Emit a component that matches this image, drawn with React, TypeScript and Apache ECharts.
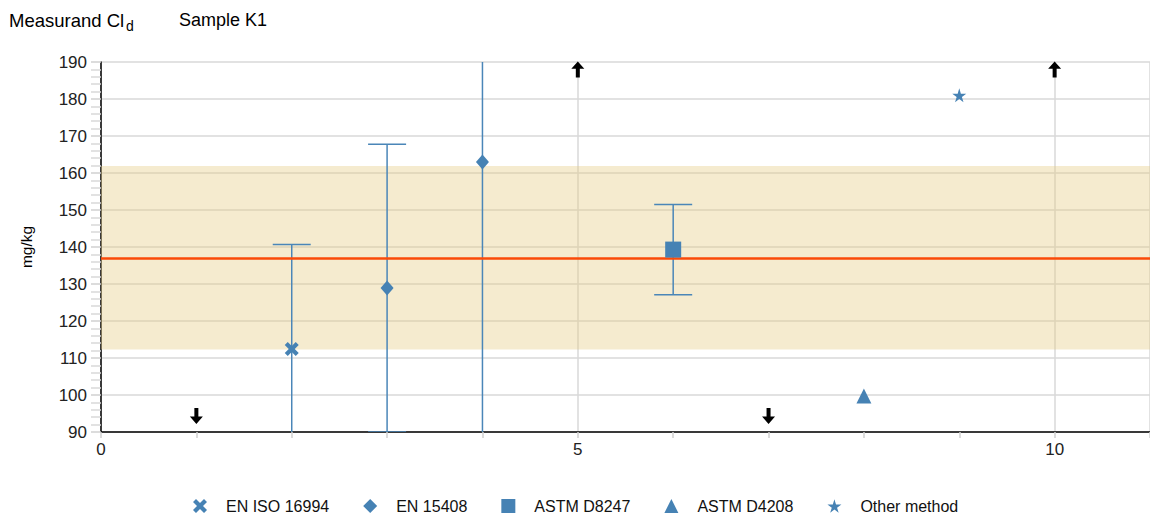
import React, { useEffect, useRef } from "react";
import * as echarts from "echarts";

// ---- data ----
const yTicks = { min: 90, max: 190, step: 10 };
const xTicks = { min: 0, max: 11, step: 5 };
const isoData = [[2, 112.4]];
const en15408Data = [[3, 128.9], [4, 163.0]];
const d8247Data = [[6, 139.3]];
const d4208Data = [[8, 99.7]];
const otherData = [[9, 181.0]];
// [x, low, high]
const errorBars = [
  [2, 84.1, 140.7],
  [3, 90.0, 167.8],
  [4, 83.0, 243.0],
  [6, 127.1, 151.5],
];
const arrowsUp = [[5, 188], [10, 188]];
const arrowsDown = [[1, 94.3], [7, 94.3]];
const assignedValue = 137;
const bandLow = 112.3;
const bandHigh = 161.9;
const legendNames = ["EN ISO 16994", "EN 15408", "ASTM D8247", "ASTM D4208", "Other method"];

const BLUE = "#4682b4";
const FONT = "Liberation Sans, Arial, sans-serif";

const CROSS = "path://M0,3 L3,0 L7,4 L11,0 L14,3 L10,7 L14,11 L11,14 L7,10 L3,14 L0,11 L4,7 Z";
const STAR = "path://M50,0 L61,35 L98,35 L68,57 L79,91 L50,70 L21,91 L32,57 L2,35 L39,35 Z";
const ARROW_UP = "path://M6.5,0 L13,7 L8.5,7 L8.5,15 L4.5,15 L4.5,7 L0,7 Z";
const ARROW_DOWN = "path://M4.5,0 L8.5,0 L8.5,8 L13,8 L6.5,15 L0,8 L4.5,8 Z";

export default function App() {
  const ref = useRef<HTMLDivElement>(null);
  useEffect(() => {
    const chart = echarts.init(ref.current!, null, { renderer: "svg" });
    const option: any = {
      animation: false,
      backgroundColor: "#ffffff",
      textStyle: { fontFamily: FONT },
      graphic: [
        { type: "text", left: 9, top: 11, style: { text: "Measurand Cl", font: `18.5px ${FONT}`, fill: "#000" } },
        { type: "text", left: 126, top: 19, style: { text: "d", font: `14px ${FONT}`, fill: "#000" } },
        { type: "text", left: 179, top: 11, style: { text: "Sample K1", font: `18px ${FONT}`, fill: "#000" } },
      ],
      grid: { left: 101, top: 62, height: 370, width: 1052, containLabel: false },
      legend: {
        left: 188,
        top: 493,
        itemWidth: 14,
        itemHeight: 14,
        itemGap: 34,
        formatter: (name: string) => `{t|${name}}`,
        textStyle: {
          fontSize: 16,
          color: "#111",
          fontFamily: FONT,
          rich: { t: { fontSize: 16, color: "#111", fontFamily: FONT, padding: [0, 0, 0, 14] } },
        },
        data: [
          { name: legendNames[0], icon: CROSS },
          { name: legendNames[1], icon: "diamond" },
          { name: legendNames[2], icon: "rect" },
          { name: legendNames[3], icon: "triangle" },
          { name: legendNames[4], icon: STAR },
        ],
      },
      xAxis: {
        type: "value",
        min: xTicks.min,
        max: xTicks.max,
        interval: xTicks.step,
        axisLine: { show: true, lineStyle: { color: "#000", width: 1.5 } },
        axisTick: { show: true, length: 6, lineStyle: { color: "#d0d0d0", width: 1.5 } },
        minorTick: { show: true, splitNumber: 5, length: 6, lineStyle: { color: "#d0d0d0", width: 1.5 } },
        splitLine: { show: true, lineStyle: { color: "#d9d9d9", width: 1.5 } },
        axisLabel: { fontSize: 17, color: "#222", margin: 9, fontFamily: FONT, showMaxLabel: false },
      },
      yAxis: {
        type: "value",
        min: yTicks.min,
        max: yTicks.max,
        interval: yTicks.step,
        name: "mg/kg",
        nameLocation: "middle",
        nameGap: 67,
        nameTextStyle: { fontSize: 15.5, color: "#000", fontFamily: FONT },
        axisLine: { show: true, lineStyle: { color: "#000", width: 1.5 } },
        axisTick: { show: true, length: 10, lineStyle: { color: "#d0d0d0", width: 1.5 } },
        minorTick: { show: true, splitNumber: 5, length: 10, lineStyle: { color: "#d9d9d9", width: 1.5 } },
        splitLine: { show: true, lineStyle: { color: "#d9d9d9", width: 1.5 } },
        axisLabel: { fontSize: 17, color: "#222", margin: 14, fontFamily: FONT },
      },
      series: [
        {
          type: "line",
          data: [],
          silent: true,
          z: 1,
          markArea: {
            silent: true,
            itemStyle: { color: "rgba(230,205,135,0.4)" },
            data: [[{ yAxis: bandLow }, { yAxis: bandHigh }]],
          },
          markLine: {
            silent: true,
            symbol: "none",
            label: { show: false },
            lineStyle: { color: "#fa4a08", width: 2.5, type: "solid" },
            data: [{ yAxis: assignedValue }],
          },
        },
        {
          type: "custom",
          clip: true,
          silent: true,
          z: 3,
          data: errorBars,
          encode: { x: 0, y: [1, 2] },
          renderItem: (params: any, api: any) => {
            const x = api.value(0);
            const lo = api.coord([x, api.value(1)]);
            const hi = api.coord([x, api.value(2)]);
            const hw = 19;
            const st = { stroke: "#4a86b8", lineWidth: 1.5 };
            return {
              type: "group",
              children: [
                { type: "line", shape: { x1: lo[0], y1: lo[1], x2: hi[0], y2: hi[1] }, style: st },
                { type: "line", shape: { x1: lo[0] - hw, y1: lo[1], x2: lo[0] + hw, y2: lo[1] }, style: st },
                { type: "line", shape: { x1: hi[0] - hw, y1: hi[1], x2: hi[0] + hw, y2: hi[1] }, style: st },
              ],
            };
          },
        },
        { name: legendNames[0], type: "scatter", symbol: CROSS, symbolSize: 14, itemStyle: { color: BLUE, opacity: 1 }, data: isoData, z: 5 },
        { name: legendNames[1], type: "scatter", symbol: "diamond", symbolSize: [13, 15], itemStyle: { color: BLUE, opacity: 1 }, data: en15408Data, z: 5 },
        { name: legendNames[2], type: "scatter", symbol: "rect", symbolSize: 16, itemStyle: { color: BLUE, opacity: 1 }, data: d8247Data, z: 5 },
        { name: legendNames[3], type: "scatter", symbol: "triangle", symbolSize: [15, 15], itemStyle: { color: BLUE, opacity: 1 }, data: d4208Data, z: 5 },
        { name: legendNames[4], type: "scatter", symbol: STAR, symbolSize: 14, itemStyle: { color: BLUE, opacity: 1 }, data: otherData, z: 5 },
        { type: "scatter", symbol: ARROW_UP, symbolSize: [13, 16], itemStyle: { color: "#000", opacity: 1 }, data: arrowsUp, z: 6, silent: true },
        { type: "scatter", symbol: ARROW_DOWN, symbolSize: [13, 16], itemStyle: { color: "#000", opacity: 1 }, data: arrowsDown, z: 6, silent: true },
      ],
    };
    chart.setOption(option);
    return () => chart.dispose();
  }, []);
  return (
    <div
      ref={ref}
      style={{ position: "fixed", left: 0, top: 0, width: 1150, height: 516, background: "#fff" }}
    />
  );
}
